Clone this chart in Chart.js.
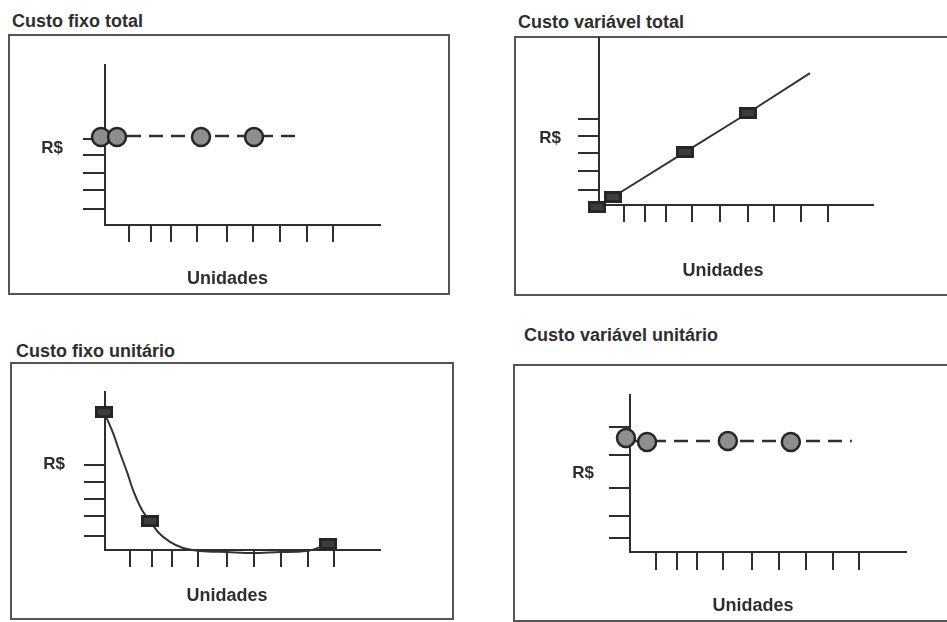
<!DOCTYPE html>
<html><head><meta charset="utf-8">
<script src="https://cdn.jsdelivr.net/npm/chart.js@4.4.1/dist/chart.umd.min.js"></script>
<style>
html,body{margin:0;padding:0;background:#fff;}
#page{position:relative;width:947px;height:622px;overflow:hidden;background:#fff;font-family:"Liberation Sans",Arial,sans-serif;}
.t{position:absolute;font-weight:bold;font-size:18px;line-height:20px;color:#2e2e2e;white-space:nowrap;}
.box{position:absolute;border:2px solid #555;box-sizing:border-box;}
canvas{position:absolute;left:0;top:0;}
</style></head><body>
<div id="page">
  <div class="t" style="left:12px;top:11px">Custo fixo total</div>
  <div class="t" style="left:518px;top:12px">Custo variável total</div>
  <div class="t" style="left:16px;top:341px">Custo fixo unitário</div>
  <div class="t" style="left:524px;top:325px">Custo variável unitário</div>
  <div class="box" style="left:8px;top:34px;width:442px;height:261px"></div>
  <div class="box" style="left:514px;top:36px;width:440px;height:260px"></div>
  <div class="box" style="left:10px;top:362px;width:444px;height:258px"></div>
  <div class="box" style="left:513px;top:364px;width:440px;height:258px"></div>
  <canvas id="c1" width="947" height="622"></canvas>
  <canvas id="c2" width="947" height="622"></canvas>
  <canvas id="c3" width="947" height="622"></canvas>
  <canvas id="c4" width="947" height="622"></canvas>
</div>
<script>
// ---- Data (x = Unidades, y = R$) ----
const xLabel = 'Unidades';
const yLabel = 'R$';

// Custo fixo total
const cftTicksX = [0.96, 1.84, 2.64, 3.68, 4.88, 5.92, 7.0, 8.08, 9.12];
const cftTicksY = [1.0, 2.2, 3.25, 4.4, 5.4];
const cftUnits = [-0.16, 0.48, 3.84, 5.96];
const cftCost = [5.5, 5.5, 5.5, 5.5];
const cftLineUnits = [0, 7.72];
const cftLineCost = [5.56, 5.56];

// Custo variável total
const cvtTicksX = [1.0, 1.85, 2.69, 3.73, 4.86, 5.98, 7.03, 8.11, 9.2];
const cvtTicksY = [0.9, 2.04, 3.11, 4.13, 5.15];
const cvtUnits = [-0.08, 0.56, 3.45, 5.98];
const cvtCost = [-0.12, 0.48, 3.17, 5.51];
const cvtLineUnits = [-0.08, 0.56, 3.45, 5.98, 8.47];
const cvtLineCost = [-0.12, 0.48, 3.17, 5.51, 7.9];

// Custo fixo unitário
const cfuTicksX = [1.0, 1.88, 2.68, 3.72, 4.88, 5.96, 7.04, 8.12, 9.16];
const cfuTicksY = [0.89, 2.15, 3.23, 4.3, 5.38];
const cfuUnits = [-0.04, 1.8, 8.92];
const cfuCost = [8.73, 1.84, 0.38];
const cfuCurveUnits = [-0.04, 0.32, 0.6, 0.88, 1.12, 1.48, 1.8, 2.12, 2.6, 3.12, 3.8, 4.88, 5.92, 7.0, 8.08, 8.92];
const cfuCurveCost = [8.73, 7.41, 6.14, 4.94, 3.8, 2.53, 1.84, 1.14, 0.51, 0.13, -0.06, -0.13, -0.19, -0.13, -0.06, 0.38];

// Custo variável unitário
const cvuTicksX = [1.04, 1.87, 2.67, 3.7, 4.86, 5.94, 7.01, 8.09, 9.12];
const cvuTicksY = [0.89, 2.29, 4.08, 6.18, 7.96];
const cvuUnits = [-0.16, 0.68, 3.9, 6.41];
const cvuCost = [7.26, 7.0, 7.07, 7.0];
const cvuLineUnits = [0, 8.84];
const cvuLineCost = [7.07, 7.07];

// ---- Helpers ----
const INK = '#2e2e2e';
const FONT = '"Liberation Sans", Arial, sans-serif';
const pts = (xs, ys) => xs.map((x, i) => ({x: x, y: ys[i]}));

function rectMarker(w, h) {
  const c = document.createElement('canvas');
  c.width = w; c.height = h;
  const g = c.getContext('2d');
  g.fillStyle = '#262626'; g.fillRect(0, 0, w, h);
  g.fillStyle = '#3d3d3d'; g.fillRect(3, 3, w - 6, h - 6);
  return c;
}
const RECT = rectMarker(18, 12);

const labelPlugin = {
  id: 'panelLabels',
  afterDraw(chart, args, o) {
    const ctx = chart.ctx, xs = chart.scales.x, ys = chart.scales.y;
    ctx.save();
    ctx.fillStyle = INK;
    ctx.font = 'bold 17px ' + FONT;
    ctx.textAlign = 'right'; ctx.textBaseline = 'middle';
    ctx.fillText(yLabel, ys.left - o.yGap, ys.getPixelForValue(o.yAt) + 1);
    ctx.font = 'bold 18px ' + FONT;
    ctx.textAlign = 'center';
    ctx.fillText(xLabel, xs.getPixelForValue(o.xAt), xs.bottom + o.xGap);
    ctx.restore();
  }
};

function axis(ticksArr, tickLen) {
  return {
    type: 'linear', min: 0, max: ticksArr === null ? 10 : undefined,
    afterBuildTicks: (s) => { s.ticks = ticksArr.map(v => ({value: v})); },
    ticks: {display: false},
    grid: {drawOnChartArea: false, drawTicks: true, tickLength: tickLen, color: INK, lineWidth: 2},
    border: {display: true, color: INK, width: 2}
  };
}

function panel(id, cfg) {
  const xa = axis(cfg.ticksX, cfg.xTick); xa.max = 11;
  const ya = axis(cfg.ticksY, cfg.yTick); ya.max = 10;
  new Chart(document.getElementById(id), {
    type: 'line',
    data: {datasets: cfg.datasets},
    options: {
      responsive: false, animation: false, devicePixelRatio: 1, events: [],
      layout: {autoPadding: false, padding: cfg.pad},
      scales: {x: xa, y: ya},
      plugins: {legend: {display: false}, tooltip: {enabled: false},
                panelLabels: cfg.labels}
    },
    plugins: [labelPlugin]
  });
}

const circleSet = (xs, ys) => ({
  data: pts(xs, ys), showLine: false, clip: false,
  pointStyle: 'circle', pointRadius: 9, pointBackgroundColor: '#8e8e8e',
  pointBorderColor: '#262626', pointBorderWidth: 2.5
});
const rectSet = (xs, ys) => ({
  data: pts(xs, ys), showLine: false, clip: false,
  pointStyle: RECT, pointRadius: 9
});
const dashSet = (xs, ys) => ({
  data: pts(xs, ys), clip: false, borderColor: INK, borderWidth: 2.5,
  borderDash: [14, 8], pointRadius: 0, tension: 0
});
const solidSet = (xs, ys, mono) => ({
  data: pts(xs, ys), clip: false, borderColor: '#333', borderWidth: 2,
  pointRadius: 0, tension: mono ? 0.4 : 0, cubicInterpolationMode: mono ? 'monotone' : 'default'
});

panel('c1', {
  ticksX: cftTicksX, ticksY: cftTicksY, xTick: 17, yTick: 22,
  pad: {left: 83, top: 65, right: 567, bottom: 380},
  labels: {yAt: 4.875, yGap: 20, xAt: 4.9, xGap: 37},
  datasets: [circleSet(cftUnits, cftCost), dashSet(cftLineUnits, cftLineCost)]
});
panel('c2', {
  ticksX: cvtTicksX, ticksY: cvtTicksY, xTick: 17, yTick: 21,
  pad: {left: 578, top: 38, right: 74, bottom: 400},
  labels: {yAt: 4.07, yGap: 17, xAt: 4.98, xGap: 49},
  datasets: [rectSet(cvtUnits, cvtCost), solidSet(cvtLineUnits, cvtLineCost, false)]
});
panel('c3', {
  ticksX: cfuTicksX, ticksY: cfuTicksY, xTick: 17, yTick: 21,
  pad: {left: 84, top: 392, right: 567, bottom: 55},
  labels: {yAt: 5.5, yGap: 19, xAt: 4.88, xGap: 29},
  datasets: [rectSet(cfuUnits, cfuCost), solidSet(cfuCurveUnits, cfuCurveCost, true)]
});
panel('c4', {
  ticksX: cvuTicksX, ticksY: cvuTicksY, xTick: 18, yTick: 21,
  pad: {left: 609, top: 395, right: 41, bottom: 52},
  labels: {yAt: 5.1, yGap: 15, xAt: 4.9, xGap: 36},
  datasets: [circleSet(cvuUnits, cvuCost), dashSet(cvuLineUnits, cvuLineCost)]
});
</script>
</body></html>
